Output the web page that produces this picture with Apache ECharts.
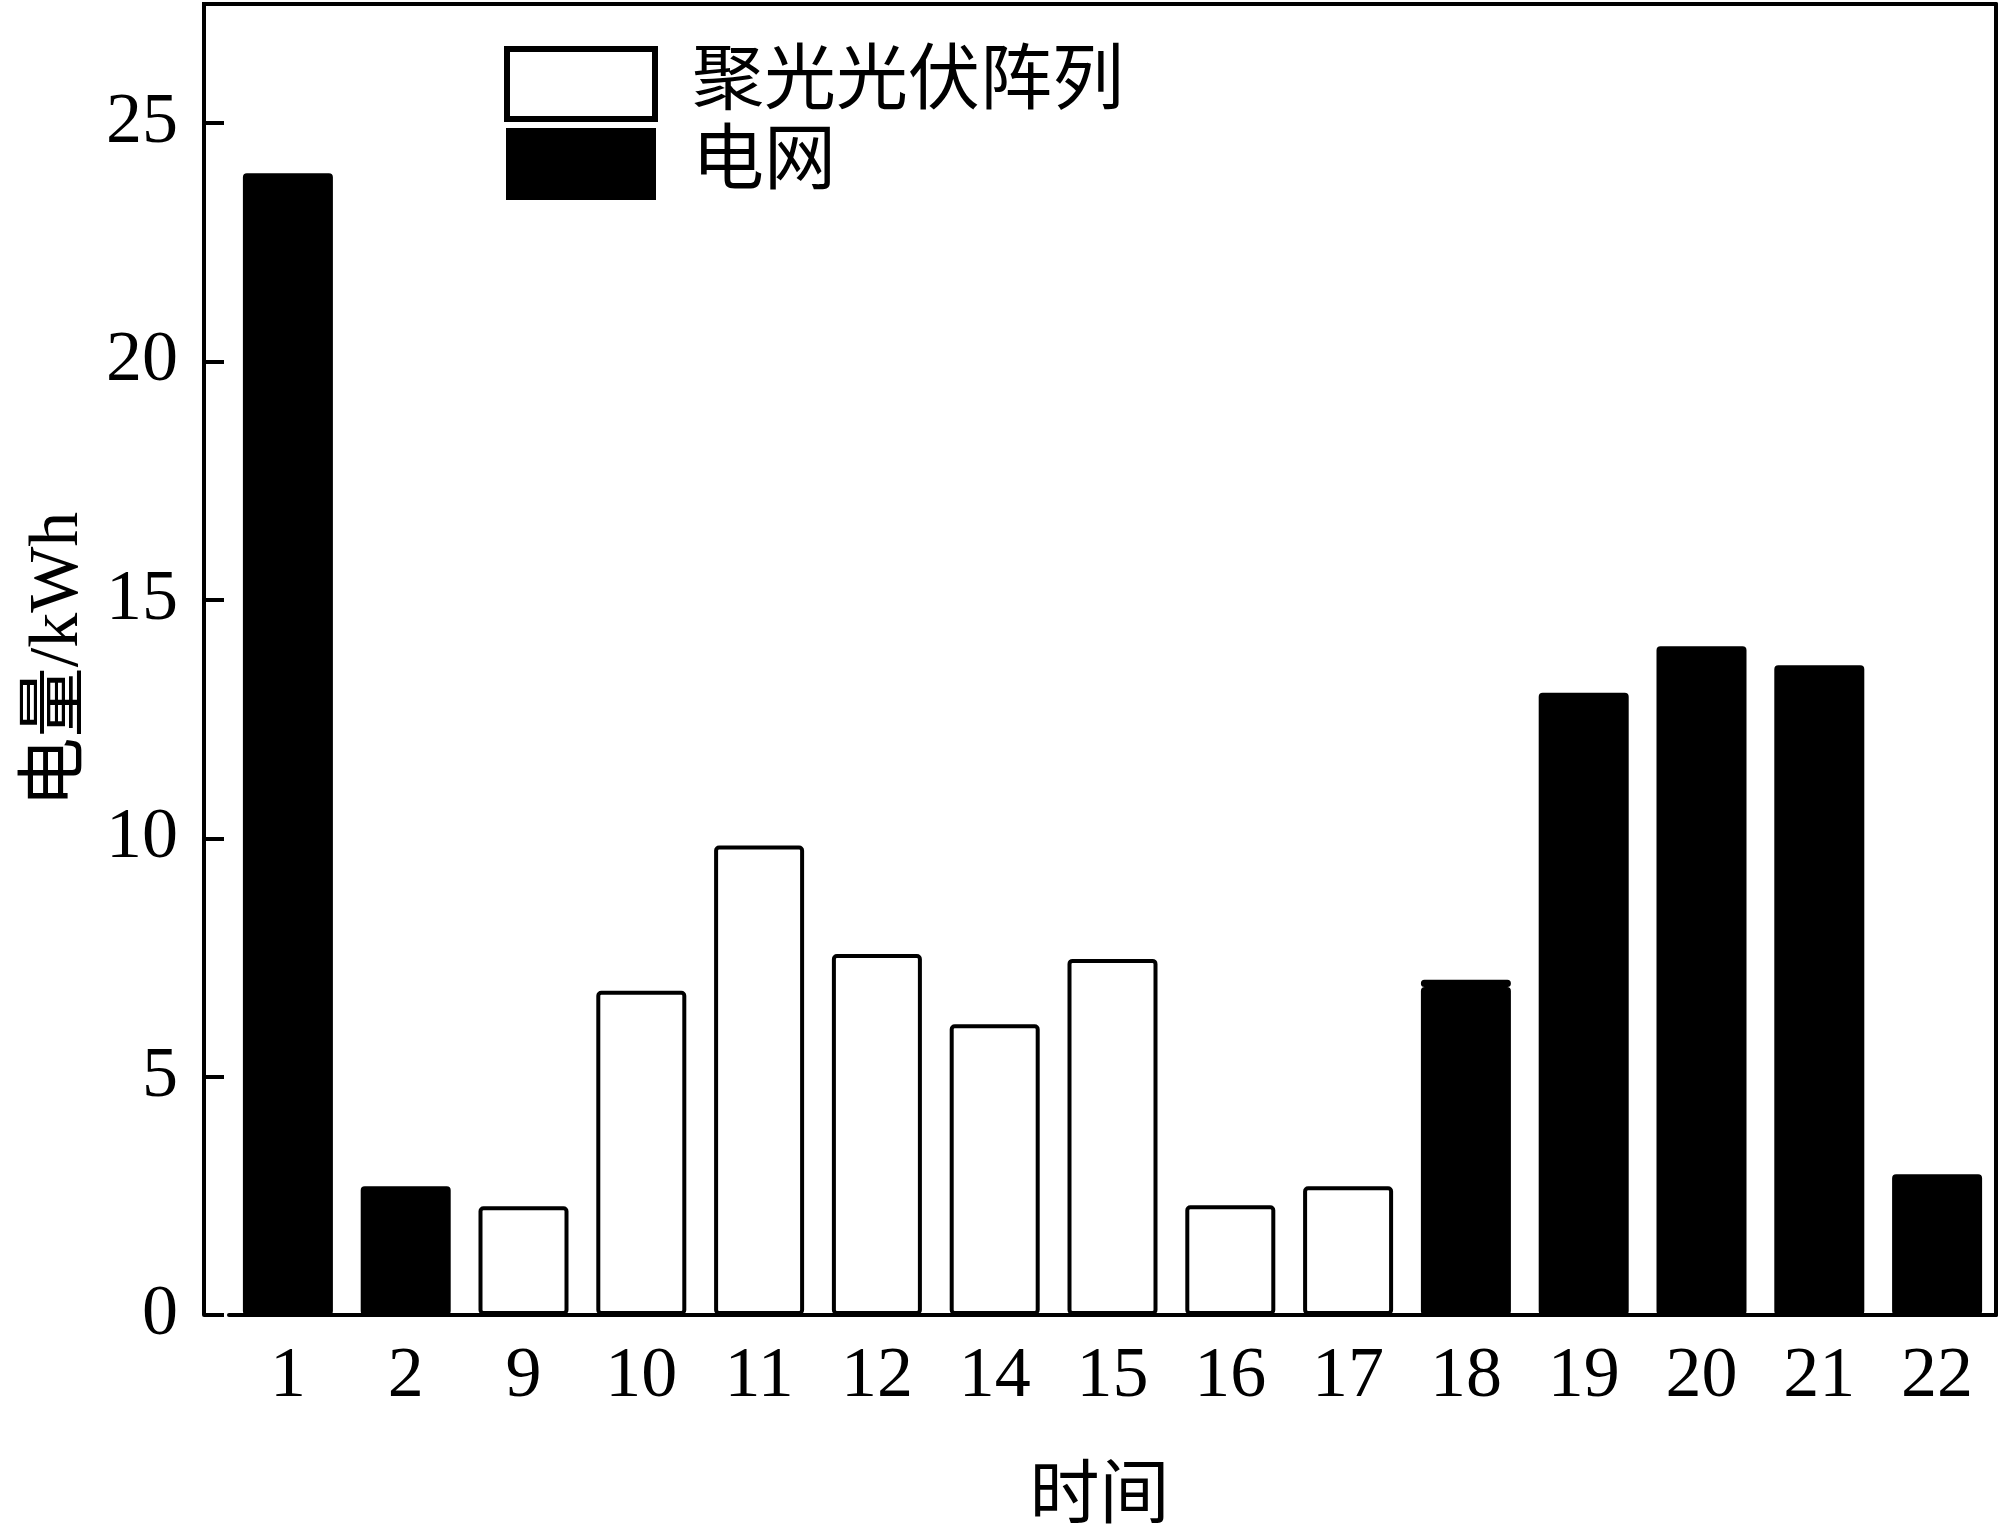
<!DOCTYPE html>
<html>
<head>
<meta charset="utf-8">
<script src="https://cdn.jsdelivr.net/npm/echarts@6/dist/echarts.min.js"></script>
<style>
  html, body { margin: 0; padding: 0; background: #fff; }
  #main { width: 2000px; height: 1537px; }
</style>
</head>
<body>
<div id="main"></div>
<script>
// hours of the day shown on the x axis
const hours = ['1', '2', '9', '10', '11', '12', '14', '15', '16', '17', '18', '19', '20', '21', '22'];
// energy from the concentrating PV array (kWh)
const pvValues = [0, 0, 2.28, 6.8, 9.85, 7.57, 6.1, 7.47, 2.3, 2.7, 0.15, 0, 0, 0, 0];
// energy from the grid (kWh)
const gridValues = [23.95, 2.7, 0, 0, 0, 0, 0, 0, 0, 0, 6.88, 13.05, 14.03, 13.63, 2.95];
const yTicks = [0, 5, 10, 15, 20, 25];

const FONT = '"Liberation Serif", "Times New Roman", "Noto Sans CJK SC", serif';

function clean(vals) {
  return vals.map(v => (v > 0 ? v : '-'));
}

const chart = echarts.init(document.getElementById('main'));
chart.setOption({
  animation: false,
  backgroundColor: '#fff',
  textStyle: { fontFamily: FONT, color: '#000' },
  grid: { left: 229, right: 4, top: 4, bottom: 222, outerBoundsMode: 'none' },
  legend: {
    orient: 'vertical',
    left: 499, top: 41,
    icon: 'rect',
    itemWidth: 148, itemHeight: 70, itemGap: 6,
    data: [
      { name: '聚光光伏阵列', itemStyle: { borderWidth: 6, borderColor: '#000' } },
      { name: '电网' }
    ],
    textStyle: { fontSize: 72, fontFamily: FONT, color: '#000', padding: [0, 0, 0, 32] }
  },
  // top border line starts where the y axis line is
  graphic: [{
    type: 'line',
    shape: { x1: 202, y1: 4, x2: 232, y2: 4 },
    style: { stroke: '#000', lineWidth: 4 }
  }],
  xAxis: [{
    type: 'category',
    data: hours,
    name: '时间',
    nameLocation: 'middle',
    nameGap: 150,
    nameTextStyle: { fontSize: 70, fontFamily: FONT, color: '#000', padding: [0, 26, 0, 0] },
    axisLine: { show: true, onZero: false, lineStyle: { color: '#000', width: 4 } },
    axisTick: { show: false },
    axisLabel: { fontSize: 72, fontFamily: FONT, color: '#000', margin: 26 }
  }, {
    type: 'category',
    data: hours,
    position: 'top',
    axisLine: { show: true, onZero: false, lineStyle: { color: '#000', width: 4 } },
    axisTick: { show: false },
    axisLabel: { show: false }
  }],
  yAxis: [{
    type: 'value',
    min: 0, max: 27.5,
    offset: 25,
    name: '电量/kWh',
    nameLocation: 'middle',
    nameGap: 110,
    nameTextStyle: { fontSize: 70, fontFamily: FONT, color: '#000' },
    axisLine: { show: true, onZero: false, lineStyle: { color: '#000', width: 4 } },
    axisTick: {
      show: true, inside: true, length: 20,
      customValues: yTicks,
      lineStyle: { color: '#000', width: 4 }
    },
    splitLine: { show: false },
    axisLabel: {
      customValues: yTicks,
      fontSize: 72, fontFamily: FONT, color: '#000', margin: 26
    }
  }, {
    type: 'value',
    min: 0, max: 27.5,
    position: 'right',
    axisLine: { show: true, onZero: false, lineStyle: { color: '#000', width: 4 } },
    axisTick: { show: false },
    axisLabel: { show: false },
    splitLine: { show: false }
  }],
  series: [
    {
      name: '电网',
      type: 'bar',
      stack: 'total',
      barWidth: 90,
      data: clean(gridValues),
      itemStyle: { color: '#000', borderColor: '#000', borderWidth: 2, borderRadius: 3 }
    },
    {
      name: '聚光光伏阵列',
      type: 'bar',
      stack: 'total',
      barWidth: 90,
      data: clean(pvValues),
      itemStyle: { color: '#fff', borderColor: '#000', borderWidth: 4, borderRadius: 3 }
    }
  ]
});
</script>
</body>
</html>
